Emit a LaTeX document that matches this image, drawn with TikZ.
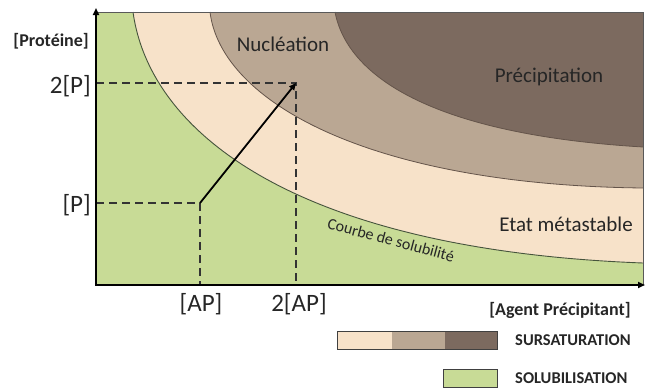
\documentclass[tikz,border=0pt]{standalone}
\usepackage{fontspec}
\setmainfont{Carlito}
\usetikzlibrary{arrows.meta}

\definecolor{solgreen}{RGB}{200,219,150}
\definecolor{metacream}{RGB}{247,226,201}
\definecolor{nuclbrown}{RGB}{186,167,147}
\definecolor{precbrown}{RGB}{124,106,95}
\definecolor{txtgray}{RGB}{38,38,38}
\definecolor{edgebrown}{RGB}{100,84,74}
\definecolor{edgegreen}{RGB}{70,84,60}

\tikzset{
  ticklabel/.style={font=\fontsize{25}{30}\selectfont, text=txtgray, inner sep=0pt},
  zonelabel/.style={font=\fontsize{21}{25}\selectfont, text=txtgray, inner sep=0pt},
  axislabel/.style={font=\bfseries\fontsize{18}{22}\selectfont, text=txtgray, inner sep=0pt},
  legendlabel/.style={font=\bfseries\fontsize{16.5}{20}\selectfont, text=txtgray, inner sep=0pt, anchor=west},
  guide/.style={dash pattern=on 8pt off 5pt, line width=1.4pt, black!80},
  zoneedge/.style={line width=0.8pt, edgebrown},
  legendbox/.style={draw=black!75, line width=0.8pt},
}

\begin{document}
\begin{tikzpicture}[x=1pt, y=-1pt, >={Triangle[length=7pt,width=6pt]}]
  \useasboundingbox (0,0) rectangle (645,388);

  \fill[solgreen] (96,12) rectangle (643,285);
  \fill[metacream] (133,12) .. controls (150,135) and (300,250) .. (643,263) -- (643,12) -- cycle;
  \fill[nuclbrown] (210,12) .. controls (221,102) and (370,185) .. (643,188) -- (643,12) -- cycle;
  \fill[precbrown] (335,12) .. controls (348,80) and (440,135) .. (643,147) -- (643,12) -- cycle;

  \draw[line width=0.9pt, edgegreen] (133,12) .. controls (150,135) and (300,250) .. (643,263);
  \draw[zoneedge] (210,12) .. controls (221,102) and (370,185) .. (643,188);
  \draw[zoneedge] (335,12) .. controls (348,80) and (440,135) .. (643,147);
  \draw[line width=0.8pt, black!65] (96,12) -- (643,12) -- (643,285);

  \coordinate (origin) at (96,285);
  \coordinate (yend) at (96,8);
  \coordinate (xend) at (645,285);
  \coordinate (yP) at (96,203);
  \coordinate (yPP) at (96,83);
  \coordinate (xAP) at (200,285);
  \coordinate (xAAP) at (296,285);
  \coordinate (start) at (200,203);
  \coordinate (target) at (296,83);

  \draw[guide] (yP) -- (start) -- (xAP);
  \draw[guide] (yPP) -- (target) -- (xAAP);
  \draw[->, line width=1.8pt] (start) -- (target);
  \draw[<->, line width=2pt] (yend) -- (origin) -- (xend);

  \node[axislabel, anchor=east] (prot) at (89,41) {[Protéine]};
  \node[ticklabel, anchor=east] (ppp) at (91,86) {2[P]};
  \node[ticklabel, anchor=east] (pp) at (91,205) {[P]};
  \node[ticklabel] (ap) at (201,304) {[AP]};
  \node[ticklabel] (aap) at (299,304) {2[AP]};
  \node[axislabel] (agent) at (560,310) {[Agent Précipitant]};

  \node[zonelabel] (nucl) at (283,44) {Nucléation};
  \node[zonelabel] (prec) at (549,77) {Précipitation};
  \node[zonelabel] (meta) at (566,224) {Etat métastable};
  \node[font=\fontsize{16}{19}\selectfont, text=txtgray, inner sep=0pt, rotate=-15] (sol) at (391,240) {Courbe de solubilité};

  \fill[metacream] (337,331) rectangle (392,349);
  \fill[nuclbrown] (392,331) rectangle (445,349);
  \fill[precbrown] (445,331) rectangle (497,349);
  \draw[legendbox] (337,331) rectangle (497,349);
  \draw[legendbox, fill=solgreen] (443,369) rectangle (497,387);
  \node[legendlabel] (sursat) at (515,340) {SURSATURATION};
  \node[legendlabel] (solub) at (515,378) {SOLUBILISATION};
\end{tikzpicture}
\end{document}
